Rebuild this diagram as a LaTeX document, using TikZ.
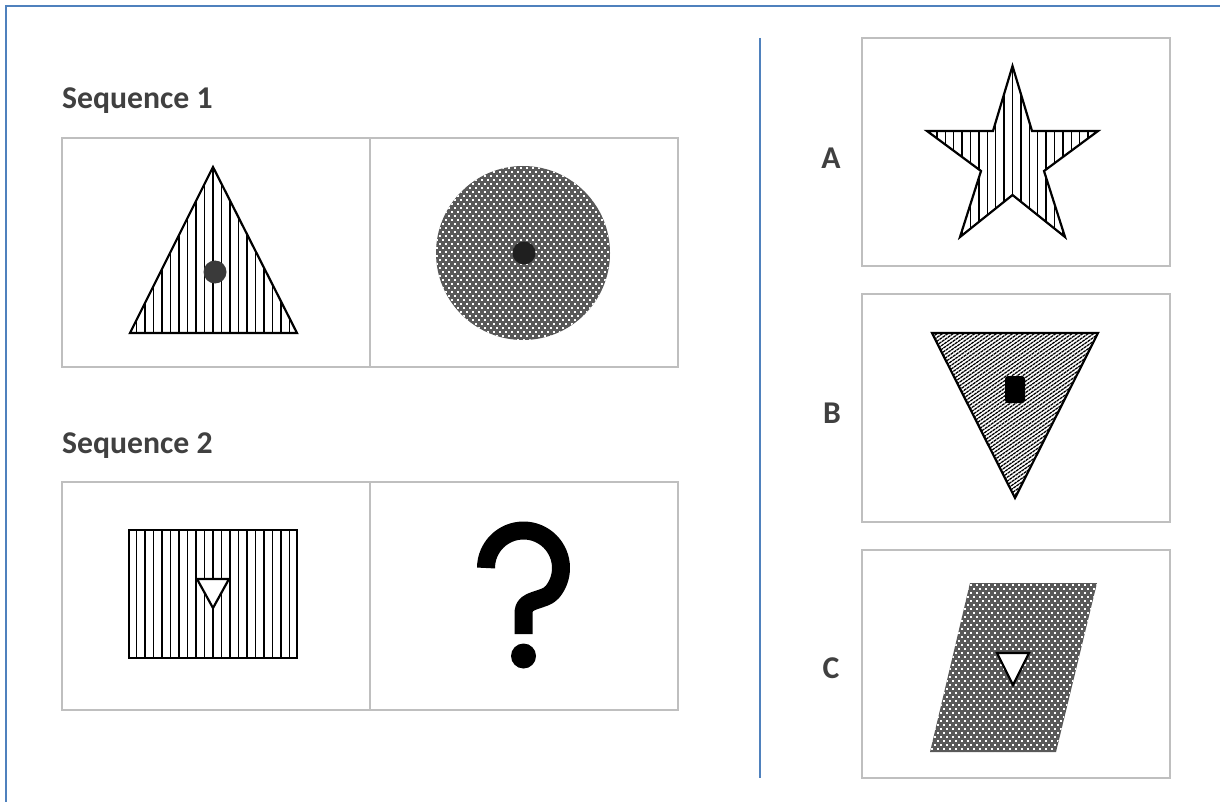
\documentclass[tikz,border=0pt]{standalone}
\usepackage{fontspec}
\setmainfont{Carlito}
\definecolor{blueframe}{HTML}{4F81BD}
\definecolor{boxgray}{HTML}{BFBFBF}
\definecolor{labelgray}{HTML}{404040}
\definecolor{dotfill}{HTML}{595959}
\definecolor{centerdot}{HTML}{3A3A3A}
% #1 xmin, #2 number of columns, #3 ymin, #4 number of rows
\newcommand{\whitedots}[4]{%
  \foreach \rr in {0,...,#4}{%
    \pgfmathsetmacro\off{mod(\rr,2)*3}%
    \pgfmathsetmacro\yy{#3+4*\rr}%
    \foreach \cc in {0,...,#2}{%
      \fill[white] ({#1+6*\cc+\off-0.85},{\yy-0.85}) rectangle +(1.7,1.7);
    }%
  }%
}
\begin{document}
\begin{tikzpicture}[x=1pt,y=-1pt,
  cell/.style={draw=boxgray, line width=2.2pt},
  lbl/.style={font=\fontsize{31.7}{38}\selectfont\bfseries, text=labelgray, inner sep=0pt},
  outline/.style={draw=black, line width=2.2pt, line join=miter},
  hatch/.style={draw=black, line width=1.4pt},
  diag/.style={draw=black, line width=1.25pt, dash pattern=on 3pt off 0.7pt}]
\useasboundingbox (0,0) rectangle (1220,802);
\fill[white] (0,0) rectangle (1220,802);

% frame and divider
\draw[blueframe, line width=2.2pt] (6,802) -- (6,6) -- (1220,6);
\draw[blueframe, line width=1.6pt] (760,38) -- (760,778);

% labels
\node[lbl, anchor=base west] (seq1) at (62,109) {Sequence 1};
\node[lbl, anchor=base west] (seq2) at (62,453) {Sequence 2};
\node[lbl] (labA) at (831,158) {A};
\node[lbl] (labB) at (832,413) {B};
\node[lbl] (labC) at (831,668) {C};

% cells
\draw[cell] (62,138) rectangle (678,367);
\draw[cell] (370,138) -- (370,367);
\draw[cell] (62,482) rectangle (678,710);
\draw[cell] (370,482) -- (370,710);
\draw[cell] (862,38) rectangle (1170,266);
\draw[cell] (862,294) rectangle (1170,522);
\draw[cell] (862,550) rectangle (1170,778);

% Sequence 1: hatched triangle with dot
\begin{scope}
  \clip (213,167) -- (297,333) -- (130,333) -- cycle;
  \foreach \k in {-10,...,10} \draw[hatch] ({213+\k*8.5},160) -- ({213+\k*8.5},340);
\end{scope}
\draw[outline] (213,167) -- (297,333) -- (130,333) -- cycle;
\fill[centerdot] (215,272) circle[radius=11.5];

% Sequence 1: dotted circle with dot
\fill[dotfill] (523,253) circle[radius=87];
\begin{scope}
  \clip (523,253) circle[radius=87];
  \whitedots{434}{30}{164}{45}
\end{scope}
\fill[black!88] (524,253) circle[radius=11.5];

% Sequence 2: hatched rectangle with triangle
\begin{scope}
  \clip (129,530) rectangle (297,658);
  \foreach \k in {-10,...,10} \draw[hatch] ({213+\k*8.5},525) -- ({213+\k*8.5},665);
\end{scope}
\draw[outline] (129,530) rectangle (297,658);
\draw[outline, fill=white] (197,579) -- (229,579) -- (213,608) -- cycle;

% question mark
\draw[line width=18pt, line cap=butt, line join=round]
  (486,568) arc[start angle=180, end angle=400, radius=37.5]
  .. controls (544.5,601.3) and (523.5,598.5) .. (523.5,612) -- (523.5,634);
\fill (523.5,656) circle[radius=12.5];

% A: star
\begin{scope}
  \clip (1012.5,66) -- (1032,131) -- (1098,131) -- (1044,171) -- (1065,237) -- (1012.5,195) -- (960,237) -- (981,171) -- (927,131) -- (993,131) -- cycle;
  \foreach \k in {-11,...,11} \draw[hatch] ({1012.5+\k*8.4},60) -- ({1012.5+\k*8.4},245);
\end{scope}
\draw[outline] (1012.5,66) -- (1032,131) -- (1098,131) -- (1044,171) -- (1065,237) -- (1012.5,195) -- (960,237) -- (981,171) -- (927,131) -- (993,131) -- cycle;

% B: inverted triangle with diagonal hatching
\begin{scope}
  \clip (932,333) -- (1098,333) -- (1015,498) -- cycle;
  \foreach \k in {0,...,80} \draw[diag] ({676+\k*5.4},505) -- ++(260,-182);
\end{scope}
\draw[outline] (932,333) -- (1098,333) -- (1015,498) -- cycle;
\fill[black, rounded corners=3pt] (1005,376) rectangle (1025,403);

% C: dotted parallelogram with triangle
\fill[dotfill] (970,583) -- (1097,583) -- (1056,752) -- (930,752) -- cycle;
\begin{scope}
  \clip (970,583) -- (1097,583) -- (1056,752) -- (930,752) -- cycle;
  \whitedots{926}{30}{581}{44}
\end{scope}
\draw[outline, fill=white] (997,653) -- (1029,653) -- (1013,685) -- cycle;
\end{tikzpicture}
\end{document}
